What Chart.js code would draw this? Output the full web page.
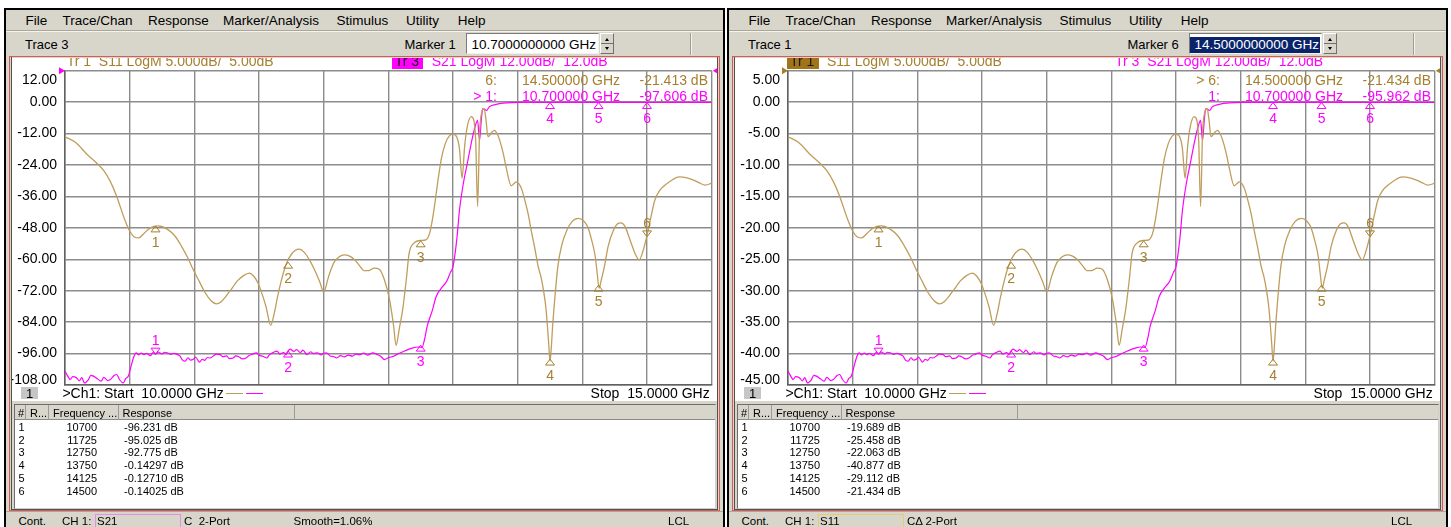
<!DOCTYPE html>
<html>
<head>
<meta charset="utf-8">
<script src="https://cdn.jsdelivr.net/npm/chart.js@4.4.1/dist/chart.umd.min.js"></script>
<style>
* { box-sizing: border-box; }
body { margin: 0; width: 1451px; height: 527px; background: #fff; position: relative; overflow: hidden;
       font-family: "Liberation Sans", Arial, sans-serif; color: #000; }
.p { position: absolute; top: 0; width: 728px; height: 527px; }
.a { position: absolute; white-space: pre; line-height: 1; }
.b { position: absolute; }
canvas { position: absolute; }
</style>
</head>
<body>
<div class="p" id="left" style="left:0"></div>
<div class="p" id="right" style="left:723px"></div>
<script>
// sweep data (GHz / dB)
const s11Freq = [10.00, 10.08, 10.175, 10.25, 10.30, 10.35, 10.40, 10.46, 10.50, 10.54, 10.57, 10.61, 10.66, 10.72, 10.79,
  10.85, 10.90, 10.95, 10.99, 11.04, 11.08, 11.13, 11.17, 11.21, 11.27, 11.335, 11.38, 11.425, 11.46, 11.49, 11.52,
  11.555, 11.59, 11.62, 11.64, 11.68, 11.71, 11.75, 11.81, 11.85, 11.89, 11.93, 11.97, 12.00, 12.04, 12.08, 12.12,
  12.16, 12.20, 12.24, 12.28, 12.31, 12.35, 12.39, 12.43, 12.47, 12.51, 12.54, 12.56, 12.585, 12.61, 12.64, 12.66,
  12.70, 12.75, 12.79, 12.82, 12.85, 12.88, 12.91, 12.94, 12.97, 13.00, 13.03, 13.05, 13.07, 13.09, 13.11, 13.14,
  13.16, 13.175, 13.19, 13.205, 13.22, 13.24, 13.255, 13.27, 13.30, 13.32, 13.34, 13.36, 13.39, 13.41, 13.45, 13.47,
  13.49, 13.51, 13.53, 13.56, 13.58, 13.61, 13.63, 13.66, 13.68, 13.70, 13.72, 13.74, 13.75, 13.76, 13.77, 13.79,
  13.81, 13.84, 13.88, 13.92, 13.97, 14.01, 14.04, 14.07, 14.10, 14.115, 14.13, 14.145, 14.17, 14.20, 14.24, 14.27,
  14.30, 14.33, 14.37, 14.41, 14.44, 14.47, 14.50, 14.53, 14.56, 14.60, 14.64, 14.70, 14.75, 14.80, 14.86, 14.90,
  14.95, 15.00];
const s11Db = [-5.5, -6.4, -8.4, -9.8, -10.9, -12.6, -15.0, -18.6, -20.5, -21.5, -21.6, -20.9, -20.0, -19.7, -20.2,
  -21.3, -22.9, -24.8, -26.6, -28.6, -30.2, -31.6, -32.1, -31.7, -30.2, -28.4, -27.6, -27.2, -27.7, -28.7, -30.3,
  -32.6, -35.5, -33.4, -31.3, -27.8, -25.8, -24.2, -23.4, -23.9, -25.1, -26.7, -28.6, -30.2, -27.6, -25.5, -24.6,
  -24.3, -24.5, -25.1, -26.1, -26.8, -26.8, -26.4, -26.6, -28.3, -31.5, -35.5, -38.7, -36.0, -33.1, -28.0, -24.1,
  -22.4, -22.0, -21.9, -20.8, -17.5, -13.0, -9.0, -6.6, -5.4, -5.1, -5.6, -7.5, -12.1, -7.0, -3.9, -2.3,
  -2.8, -6.0, -16.6, -5.0, -1.8, -1.0, -2.8, -5.5, -4.8, -4.5, -5.0, -6.0, -8.3, -10.3, -13.3, -13.0,
  -12.7, -13.0, -13.8, -16.0, -17.7, -21.0, -23.0, -26.3, -27.8, -30.0, -33.1, -38.5, -41.2, -39.0, -35.7, -30.5,
  -26.2, -22.8, -20.4, -19.0, -18.5, -18.9, -19.8, -21.8, -24.6, -27.3, -29.6, -28.4, -26.2, -22.9, -20.4, -19.4,
  -19.2, -19.8, -22.0, -24.2, -25.1, -23.6, -21.2, -18.3, -15.6, -14.0, -13.2, -12.3, -11.9, -12.0, -12.4, -12.8,
  -13.2, -12.9];

const s21Freq = [10.00, 10.02, 10.04, 10.06, 10.09, 10.11, 10.13, 10.15, 10.18, 10.20, 10.22, 10.25, 10.28, 10.30,
  10.33, 10.35, 10.38, 10.40, 10.42, 10.45, 10.47, 10.49, 10.51, 10.53, 10.55, 10.57, 10.59, 10.61, 10.63, 10.66,
  10.68, 10.70, 10.72, 10.75, 10.77, 10.79, 10.82, 10.84, 10.87, 10.89, 10.91, 10.93, 10.95, 10.97, 10.99, 11.01,
  11.04, 11.06, 11.08, 11.10, 11.12, 11.15, 11.17, 11.20, 11.22, 11.25, 11.27, 11.30, 11.32, 11.35, 11.37, 11.40,
  11.42, 11.45, 11.48, 11.50, 11.53, 11.56, 11.58, 11.61, 11.64, 11.66, 11.69, 11.71, 11.725, 11.74, 11.77, 11.79,
  11.82, 11.84, 11.87, 11.90, 11.92, 11.95, 11.98, 12.00, 12.02, 12.05, 12.08, 12.10, 12.13, 12.16, 12.19, 12.22,
  12.25, 12.28, 12.31, 12.34, 12.38, 12.41, 12.44, 12.47, 12.50, 12.54, 12.58, 12.62, 12.66, 12.69, 12.73, 12.76,
  12.78, 12.80, 12.84, 12.87, 12.91, 12.95, 12.98, 13.00, 13.03, 13.05, 13.08, 13.11, 13.14, 13.17, 13.19, 13.205,
  13.22, 13.23, 13.26, 13.28, 13.30, 13.35, 13.39, 13.45, 13.52, 13.75, 14.00, 14.125, 14.30, 14.50, 14.75, 15.00];
const s21Db = [-102.7, -104.5, -105.9, -104.8, -105.3, -106.4, -105.2, -107.2, -106.0, -104.3, -104.6, -105.6, -106.5,
  -105.1, -106.3, -105.9, -104.4, -104.0, -105.8, -107.2, -105.5, -104.6, -101.0, -97.5, -95.7, -96.5, -95.8, -96.4,
  -95.9, -96.8, -95.6, -96.2, -95.4, -96.1, -95.5, -95.7, -96.3, -95.9, -96.4, -97.0, -98.6, -98.9, -97.6, -98.5,
  -98.3, -97.4, -99.3, -98.2, -98.6, -97.5, -97.7, -96.8, -96.2, -96.4, -97.2, -96.9, -97.9, -97.7, -96.9, -97.4,
  -98.0, -97.7, -96.8, -96.2, -95.7, -96.6, -97.0, -97.7, -96.5, -95.6, -95.1, -96.2, -95.6, -96.4, -95.0, -94.3,
  -95.2, -94.5, -95.6, -94.7, -96.4, -95.3, -96.0, -95.7, -96.5, -95.9, -95.7, -96.9, -97.2, -97.7, -96.8, -97.3,
  -96.6, -97.0, -96.2, -96.4, -95.8, -96.6, -95.7, -96.3, -97.0, -98.3, -97.6, -97.0, -96.0, -95.1, -94.3, -93.8,
  -93.5, -93.6, -90.5, -85.6, -79.5, -74.2, -71.0, -68.5, -65.0, -62.8, -52.0, -41.2, -31.0, -23.5, -15.9, -9.5,
  -7.0, -14.6, -6.0, -2.5, -3.2, -1.8, -1.3, -0.7, -0.4, -0.2, -0.12, -0.14, -0.12, -0.13, -0.12, -0.14, -0.13, -0.14];

// markers (GHz) and their responses from the marker tables
const markerFreq = [10.7, 11.725, 12.75, 13.75, 14.125, 14.5];
const s11Mark = [-19.689, -25.458, -22.063, -40.877, -29.112, -21.434];
const s21Mark = [-96.231, -95.025, -92.775, -0.14297, -0.12710, -0.14025];

// axis ranges: S11 5 dB/div, S21 12 dB/div, 10 divisions each
const s11Range = [-45, 5];
const s11Step = 5;
const s21Range = [-108, 12];
const s21Step = 12;
const freqRange = [10, 15];
const freqStep = 0.5;

const menuItems = ['File', 'Trace/Chan', 'Response', 'Marker/Analysis', 'Stimulus', 'Utility', 'Help'];
const menuX = [25.4, 62.4, 148, 223, 336.6, 406, 457.7];

const FONT = '"Liberation Sans", Arial, sans-serif';
const BEIGE = '#d8d5cb';
const GOLD = '#bf9d5c';
const GOLDTXT = '#a57f2e';
const MAG = '#ff00ff';
const GRID = '#8c8c8c';

const panels = [
  { el: 'left', trace: 'Trace 3', marker: 'Marker 1', stim: '10.7000000000 GHz', sel: false, active: 's21',
    read11: '-21.413 dB', read21: '-97.606 dB', table: s21Mark, param: 'S21', paramColor: '#e98ae9',
    port: 'C  2-Port', smooth: 'Smooth=1.06%' },
  { el: 'right', trace: 'Trace 1', marker: 'Marker 6', stim: '14.5000000000 GHz', sel: true, active: 's11',
    read11: '-21.434 dB', read21: '-95.962 dB', table: s11Mark, param: 'S11', paramColor: '#e2cc7a',
    port: 'C\u0394 2-Port', smooth: '' }
];

function box(par, x, y, w, h, css) {
  const d = document.createElement('div');
  d.className = 'b';
  Object.assign(d.style, { left: x + 'px', top: y + 'px', width: w + 'px', height: h + 'px' }, css || {});
  par.appendChild(d);
  return d;
}

function txt(par, x, cy, s, size, color, right) {
  const d = document.createElement('div');
  d.className = 'a';
  d.textContent = s;
  d.style.left = x + 'px';
  d.style.top = (cy - size / 2) + 'px';
  d.style.fontSize = size + 'px';
  if (color) d.style.color = color;
  if (right) d.style.transform = 'translateX(-100%)';
  par.appendChild(d);
  return d;
}

function axisOpts(range, step, shown) {
  const o = {
    display: shown,
    position: 'left',
    min: range[0],
    max: range[1],
    ticks: {
      stepSize: step,
      autoSkip: false,
      padding: 8,
      color: '#000',
      font: c => ({ family: FONT, size: 14, lineHeight: c.index === 0 ? 0.75 : 1.3 }),
      callback: (v, i, t) => i === t.length - 1 ? ['', v.toFixed(2)] : i === 0 ? [v.toFixed(2), ''] : v.toFixed(2)
    },
    grid: { color: GRID, lineWidth: 1.4, drawTicks: false },
    border: { color: '#606060', width: 1.5 }
  };
  if (shown) o.afterFit = s => { s.width = 53; s.paddingTop = 0; s.paddingBottom = 0; };
  return o;
}

function markerPlugin(p) {
  return {
    id: 'markers_' + p.el,
    afterDatasetsDraw(chart) {
      const ctx = chart.ctx, xs = chart.scales.x, a = chart.chartArea;
      [[s11Mark, 'y11', GOLDTXT, 5], [s21Mark, 'y21', MAG, 0]].forEach(([vals, ax, col, act]) => {
        const ys = chart.scales[ax];
        ctx.save();
        ctx.strokeStyle = col;
        ctx.fillStyle = col;
        ctx.lineWidth = 1;
        ctx.font = '14px ' + FONT;
        ctx.textAlign = 'center';
        ctx.textBaseline = 'middle';
        markerFreq.forEach((f, i) => {
          const x = xs.getPixelForValue(f), y = ys.getPixelForValue(vals[i]);
          const d = i === act ? -1 : 1;
          ctx.beginPath();
          ctx.moveTo(x, y);
          ctx.lineTo(x - 4.5, y + 6 * d);
          ctx.lineTo(x + 4.5, y + 6 * d);
          ctx.closePath();
          ctx.stroke();
          ctx.fillText(String(i + 1), x, y + (d > 0 ? 17 : -13));
        });
        ctx.restore();
      });
      // reference level arrows of the active trace
      ctx.save();
      ctx.fillStyle = p.active === 's11' ? GOLDTXT : MAG;
      ctx.beginPath();
      ctx.moveTo(a.left, a.top);
      ctx.lineTo(a.left - 6, a.top - 3.5);
      ctx.lineTo(a.left - 6, a.top + 3.5);
      ctx.fill();
      ctx.beginPath();
      ctx.moveTo(a.right + 1, a.top);
      ctx.lineTo(a.right + 7, a.top - 3.5);
      ctx.lineTo(a.right + 7, a.top + 3.5);
      ctx.fill();
      ctx.restore();
    }
  };
}

function buildPanel(p) {
  const root = document.getElementById(p.el);
  box(root, 6, 10, 717, 517, { background: BEIGE });
  box(root, 4, 8, 2, 519, { background: '#000' });
  box(root, 4, 8, 721, 2, { background: '#000' });
  box(root, 723, 8, 2, 519, { background: '#000' });

  // menu + toolbar
  menuItems.forEach((m, i) => txt(root, menuX[i], 20.5, m, 13.5));
  box(root, 6, 30, 717, 1, { background: '#aaa69a' });
  box(root, 6, 31, 717, 1, { background: '#f5f3ee' });
  txt(root, 25, 44.5, p.trace, 13);
  txt(root, 404.5, 44.5, p.marker, 13);
  box(root, 466, 33, 133, 21, { background: '#fff', border: '1px solid', borderColor: '#7a7a7a #f2f2f2 #f2f2f2 #7a7a7a' });
  if (p.sel) box(root, 467, 36.5, 130, 16.5, { background: '#0a246a' });
  txt(root, 471.5, 44.5, p.stim, 13.5, p.sel ? '#fff' : '#000');
  box(root, 600, 33, 14, 21, { background: BEIGE, border: '1px solid', borderColor: '#fff #707070 #707070 #fff' });
  box(root, 601, 43, 12, 1, { background: '#707070' });
  box(root, 605, 38, 0, 0, { borderLeft: '2px solid transparent', borderRight: '2px solid transparent', borderBottom: '3px solid #000' });
  box(root, 605, 47, 0, 0, { borderLeft: '2px solid transparent', borderRight: '2px solid transparent', borderTop: '3px solid #000' });
  box(root, 690, 33, 1, 22, { background: '#a09c90' });
  box(root, 691, 33, 1, 22, { background: '#f5f3ee' });

  // frame
  box(root, 9, 56, 711, 455, { border: '1px solid #dc5a55' });
  box(root, 11, 57, 707, 453, { borderLeft: '1px solid #505050', borderRight: '1px solid #505050', borderBottom: '1px solid #505050' });

  // chart
  box(root, 12, 58, 705, 343, { background: '#fff' });
  const cv = document.createElement('canvas');
  cv.width = 705;
  cv.height = 343;
  cv.style.left = '12px';
  cv.style.top = '58px';
  root.appendChild(cv);

  const ov = box(root, 12, 58, 705, 343, { overflow: 'hidden' });
  const ox = 12, oy = 58;
  if (p.active === 's11') {
    const bx = box(ov, 64 - ox, 53 - oy, 31.7, 16, { background: '#a07418' });
    txt(bx, 3, 8, 'Tr 1', 14, '#1a1a1a');
    txt(ov, 104 - ox, 60.5 - oy, 'S11 LogM 5.000dB/  5.00dB', 14, GOLDTXT);
    txt(ov, 392 - ox, 60.5 - oy, 'Tr 3  S21 LogM 12.00dB/  12.0dB', 14, MAG);
  } else {
    txt(ov, 66.7 - ox, 60.5 - oy, 'Tr 1  S11 LogM 5.000dB/  5.00dB', 14, GOLDTXT);
    const bx = box(ov, 391.7 - ox, 53 - oy, 31.7, 16, { background: MAG });
    txt(bx, 3, 8, 'Tr 3', 14, '#1a1a1a');
    txt(ov, 431.7 - ox, 60.5 - oy, 'S21 LogM 12.00dB/  12.0dB', 14, MAG);
  }
  txt(ov, 497 - ox, 80 - oy, (p.active === 's11' ? '> ' : '') + '6:', 14, GOLDTXT, true);
  txt(ov, 522 - ox, 80 - oy, markerFreq[5].toFixed(6) + ' GHz', 14, GOLDTXT);
  txt(ov, 708 - ox, 80 - oy, p.read11, 14, GOLDTXT, true);
  txt(ov, 497 - ox, 95.5 - oy, (p.active === 's21' ? '> ' : '') + '1:', 14, MAG, true);
  txt(ov, 522 - ox, 95.5 - oy, markerFreq[0].toFixed(6) + ' GHz', 14, MAG);
  txt(ov, 708 - ox, 95.5 - oy, p.read21, 14, MAG, true);

  const ch = box(ov, 21 - ox, 386.5 - oy, 17, 12, { background: '#c6c6c6' });
  txt(ch, 5, 6.5, '1', 13);
  txt(ov, 62.4 - ox, 393.3 - oy, '>Ch1: Start  ' + freqRange[0].toFixed(4) + ' GHz', 14);
  box(ov, 225.6 - ox, 392.5 - oy, 17, 1.6, { background: GOLD });
  box(ov, 246.4 - ox, 392.5 - oy, 17, 1.6, { background: MAG });
  txt(ov, 709.7 - ox, 393.3 - oy, 'Stop  ' + freqRange[1].toFixed(4) + ' GHz', 14, null, true);

  new Chart(cv, {
    type: 'line',
    data: {
      datasets: [
        { data: s11Freq.map((f, i) => ({ x: f, y: s11Db[i] })), yAxisID: 'y11', borderColor: GOLD,
          borderWidth: 1.3, pointRadius: 0, cubicInterpolationMode: 'monotone' },
        { data: s21Freq.map((f, i) => ({ x: f, y: s21Db[i] })), yAxisID: 'y21', borderColor: MAG,
          borderWidth: 1.2, pointRadius: 0, cubicInterpolationMode: 'monotone' }
      ]
    },
    options: {
      responsive: false,
      animation: false,
      devicePixelRatio: 1,
      layout: { padding: { left: 0, top: 12.7, right: 5.3, bottom: 16 } },
      plugins: { legend: { display: false }, tooltip: { enabled: false } },
      scales: {
        x: {
          type: 'linear', min: freqRange[0], max: freqRange[1],
          ticks: { display: false, stepSize: freqStep, autoSkip: false },
          grid: { color: GRID, lineWidth: 1.4, drawTicks: false },
          border: { color: '#606060', width: 1.5 },
          afterFit: s => { s.height = 0; s.paddingLeft = 0; s.paddingRight = 0; }
        },
        y11: axisOpts(s11Range, s11Step, p.active === 's11'),
        y21: axisOpts(s21Range, s21Step, p.active === 's21')
      }
    },
    plugins: [markerPlugin(p)]
  });

  // marker table
  box(root, 14, 404, 702, 104.5, { background: '#fff', border: '1px solid', borderColor: '#6e6e6e #cfcfcf #cfcfcf #6e6e6e' });
  box(root, 15, 405, 700, 15, { background: BEIGE, borderBottom: '1px solid #8a8a8a' });
  [25.4, 47.6, 117.9, 293.6].forEach(x => box(root, x, 405, 1, 15, { background: '#9a9a9a' }));
  txt(root, 18, 413, '#', 11);
  txt(root, 30, 413, 'R...', 11);
  txt(root, 53, 413, 'Frequency ...', 11);
  txt(root, 122.5, 413, 'Response', 11);
  markerFreq.forEach((f, i) => {
    const y = 427.3 + i * 12.8;
    txt(root, 18.5, y, String(i + 1), 11);
    txt(root, 97, y, String(Math.round(f * 1000)), 11, null, true);
    txt(root, 124, y, p.table[i].toPrecision(5) + ' dB', 11);
  });

  // status bar
  box(root, 6, 511, 717, 1, { background: '#aaa69a' });
  txt(root, 18.5, 521.5, 'Cont.', 11.5);
  txt(root, 62, 521.5, 'CH 1:', 11.5);
  box(root, 95, 513.5, 86, 14, { border: '1px solid ' + p.paramColor });
  txt(root, 97, 521.5, p.param, 11.5);
  txt(root, 184, 521.5, p.port, 11.5);
  if (p.smooth) txt(root, 293.5, 521.5, p.smooth, 11.5);
  txt(root, 668, 521.5, 'LCL', 11.5);
}

panels.forEach(buildPanel);
</script>
</body>
</html>
